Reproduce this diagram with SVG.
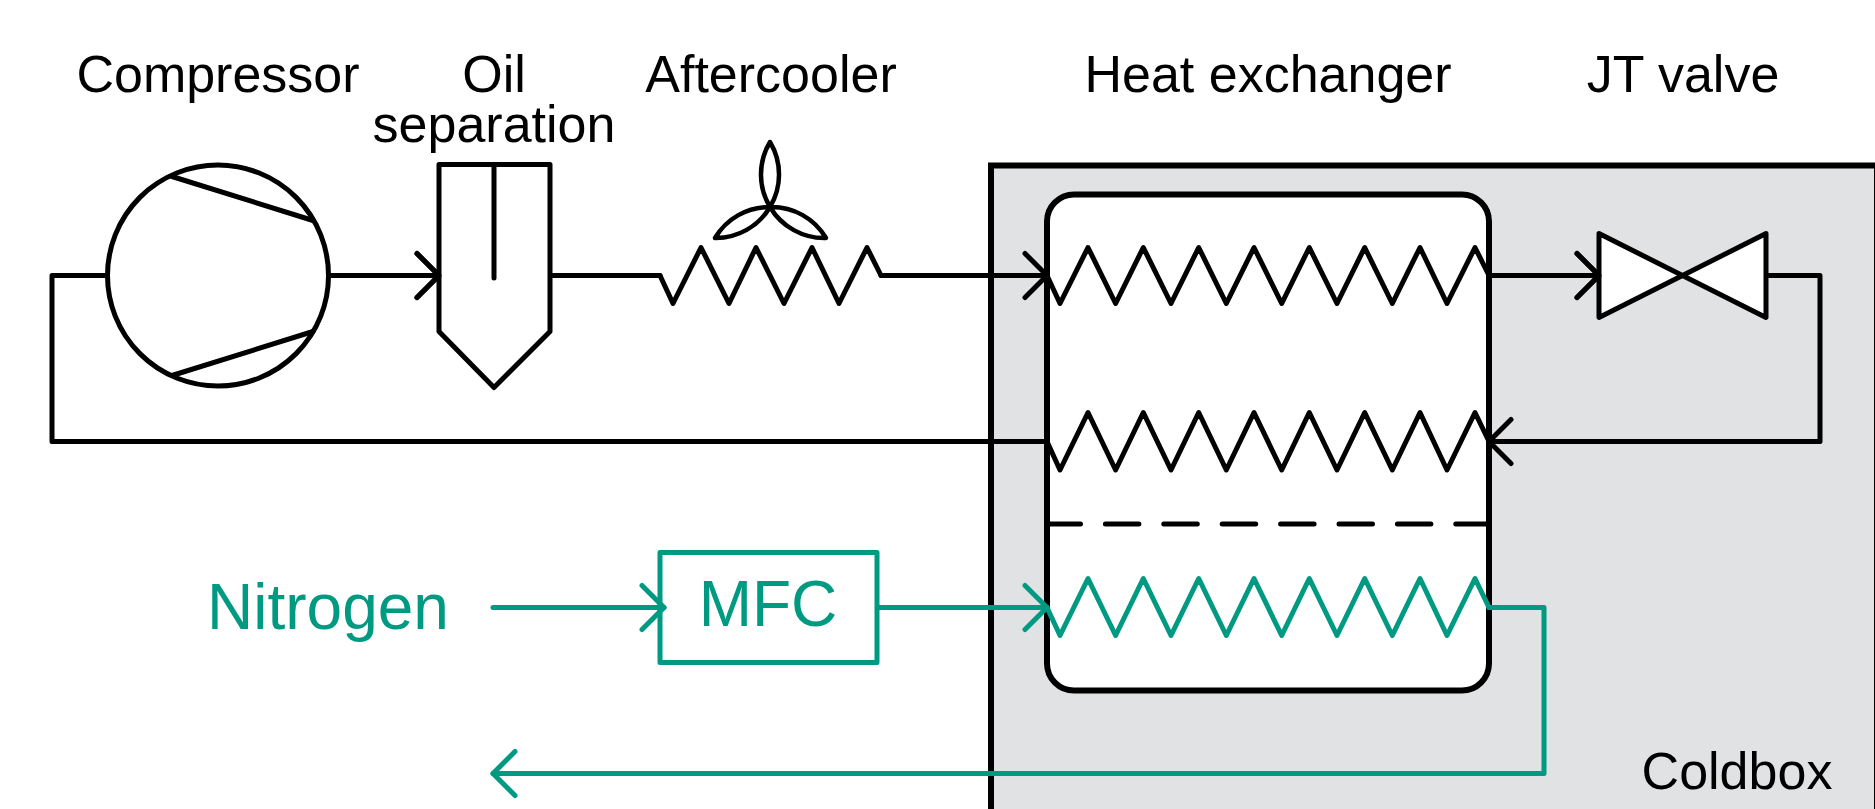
<svg xmlns="http://www.w3.org/2000/svg" width="1875" height="809" viewBox="0 0 1875 809">
<style>
text{font-family:"Liberation Sans",Arial,sans-serif;font-size:52px;fill:#000;text-anchor:middle}
.t{fill:#009a82}
.big{font-size:64px}
.l{fill:none;stroke:#000;stroke-width:5;stroke-linecap:round;stroke-linejoin:round}
.s{fill:#fff;stroke:#000;stroke-width:5;stroke-linecap:round;stroke-linejoin:round}
.g{fill:none;stroke:#009a82;stroke-width:5;stroke-linecap:round;stroke-linejoin:round}
.ga{marker-end:url(#ag)}
.ka{marker-end:url(#ak)}
</style>
<defs>
<marker id="ak" markerUnits="userSpaceOnUse" viewBox="-26 -26 30 52" refX="0" refY="0" markerWidth="30" markerHeight="52" orient="auto"><path d="M-22,-22L0,0L-22,22" fill="none" stroke="#000" stroke-width="5" stroke-linecap="round" stroke-linejoin="round"/></marker>
<marker id="ag" markerUnits="userSpaceOnUse" viewBox="-26 -26 30 52" refX="0" refY="0" markerWidth="30" markerHeight="52" orient="auto"><path d="M-22,-22L0,0L-22,22" fill="none" stroke="#009a82" stroke-width="5" stroke-linecap="round" stroke-linejoin="round"/></marker>
</defs>
<rect width="1875" height="809" fill="#fff"/>
<g id="coldbox">
<rect x="991" y="165.5" width="886" height="660" fill="#e1e2e4" stroke="#000" stroke-width="6"/>
<text x="1737" y="789">Coldbox</text>
</g>
<g id="heat-exchanger">
<rect x="1047" y="194.5" width="442" height="496" rx="27" ry="27" fill="#fff" stroke="#000" stroke-width="6"/>
<path class="l" d="M1047,275.5L1060,303.5L1088,247.5L1115.6,303.5L1143.3,247.5L1171,303.5L1198.7,247.5L1226.3,303.5L1254,247.5L1281.7,303.5L1309.3,247.5L1337,303.5L1364.7,247.5L1392.3,303.5L1420,247.5L1447,303.5L1475,247.5L1489,275.5"/>
<path class="l" d="M1047,441.5L1060,470L1088,412.5L1115.6,470L1143.3,412.5L1171,470L1198.7,412.5L1226.3,470L1254,412.5L1281.7,470L1309.3,412.5L1337,470L1364.7,412.5L1392.3,470L1420,412.5L1447,470L1475,412.5L1489,441.5"/>
<path class="l" stroke-dasharray="33.5 24.9" d="M1047,524H1489"/>
<path class="g" d="M1047,607.5L1060,635.5L1088,578.5L1115.6,635.5L1143.3,578.5L1171,635.5L1198.7,578.5L1226.3,635.5L1254,578.5L1281.7,635.5L1309.3,578.5L1337,635.5L1364.7,578.5L1392.3,635.5L1420,578.5L1447,635.5L1475,578.5L1489,607.5"/>
<text x="1268" y="92">Heat exchanger</text>
</g>
<g id="connectors">
<path class="l" d="M107,275.5H52V441.5H1047"/>
<path class="l ka" d="M328,275.5H439"/>
<path class="l" d="M550,275.5H660"/>
<path class="l ka" d="M881,275.5H1047"/>
<path class="l ka" d="M1489,275.5H1599"/>
<path class="l ka" d="M1766,275.5H1820V441.5H1489"/>
<path class="g ga" d="M877,607.5H1047"/>
<path class="g ga" d="M1489,607.5H1544V773.5H493"/>
</g>
<g id="compressor">
<circle class="s" cx="218" cy="275.5" r="110.5"/>
<path class="l" d="M172,176.5L313,220.5M172,375.5L313,331.5"/>
<text x="218" y="92">Compressor</text>
</g>
<g id="oil-separation">
<path class="s" d="M439,164.5H550V331.5L494,387.5L439,331.5Z"/>
<path class="l" d="M494,164.5V278"/>
<path class="l" d="M417,253.5L439,275.5L417,297.5"/>
<text x="494" y="92">Oil</text>
<text x="494" y="142">separation</text>
</g>
<g id="aftercooler">
<path class="l" d="M660,275.5L673,303.5L701,247.5L729,303.5L756,247.5L784,303.5L812,247.5L839,303.5L867,247.5L881,275.5"/>
<path class="l" style="stroke-width:4.5" d="M770,142A63,63 0 0 0 770,207A63,63 0 0 0 770,142ZM715,238A63,63 0 0 1 770,207A63,63 0 0 1 715,238ZM826,238A63,63 0 0 0 770,207A63,63 0 0 0 826,238Z"/>
<text x="771" y="92">Aftercooler</text>
</g>
<g id="jt-valve">
<path class="s" d="M1599,233.5L1766,317.5V233.5L1599,317.5Z"/>
<path class="l" d="M1577,253.5L1599,275.5L1577,297.5"/>
<text x="1683" y="92">JT valve</text>
</g>
<g id="mfc">
<rect x="660" y="552.5" width="217" height="110" fill="#fff" stroke="#009a82" stroke-width="5" stroke-linejoin="round"/>
<path class="g ga" d="M493,607.5H664"/>
<text class="t big" x="768" y="626">MFC</text>
</g>
<g id="nitrogen"><text class="t big" x="328" y="629">Nitrogen</text></g>
</svg>
